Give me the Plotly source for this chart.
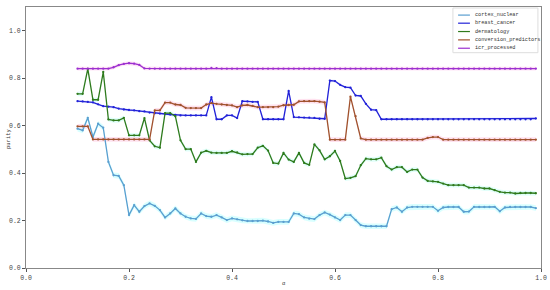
import numpy as np
import plotly.graph_objects as go

alpha = [round(0.10 + 0.01 * i, 2) for i in range(90)]

cortex_nuclear = [
    0.587, 0.580, 0.633, 0.552, 0.608, 0.591, 0.447, 0.391, 0.388, 0.349,
    0.223, 0.265, 0.237, 0.261, 0.272, 0.262, 0.244, 0.213, 0.230, 0.251,
    0.230, 0.216, 0.209, 0.207, 0.230, 0.219, 0.216, 0.223, 0.213, 0.202,
    0.209, 0.205, 0.201, 0.198, 0.198, 0.198, 0.200, 0.196, 0.190, 0.194,
    0.194, 0.194, 0.230, 0.227, 0.213, 0.208, 0.206, 0.223, 0.234, 0.225,
    0.213, 0.202, 0.223, 0.223, 0.202, 0.181, 0.176, 0.176, 0.176, 0.176,
    0.176, 0.248, 0.255, 0.237, 0.255, 0.258, 0.258, 0.258, 0.258, 0.258,
    0.241, 0.255, 0.257, 0.257, 0.257, 0.237, 0.238, 0.258, 0.257, 0.257,
    0.257, 0.258, 0.239, 0.255, 0.257, 0.257, 0.257, 0.257, 0.257, 0.252,
]

breast_cancer = [
    0.703, 0.702, 0.700, 0.698, 0.690, 0.682, 0.680, 0.678, 0.672, 0.668,
    0.666, 0.664, 0.661, 0.660, 0.655, 0.652, 0.651, 0.649, 0.647, 0.645,
    0.643, 0.643, 0.643, 0.643, 0.643, 0.643, 0.720, 0.627, 0.627, 0.643,
    0.643, 0.632, 0.703, 0.702, 0.700, 0.700, 0.627, 0.627, 0.627, 0.627,
    0.627, 0.746, 0.636, 0.635, 0.634, 0.634, 0.633, 0.629, 0.629, 0.790,
    0.788, 0.772, 0.762, 0.760, 0.727, 0.725, 0.692, 0.667, 0.665, 0.627,
    0.627, 0.627, 0.627, 0.627, 0.627, 0.627, 0.627, 0.627, 0.627, 0.627,
    0.627, 0.627, 0.627, 0.627, 0.627, 0.627, 0.627, 0.627, 0.627, 0.627,
    0.627, 0.627, 0.627, 0.627, 0.627, 0.627, 0.627, 0.627, 0.627, 0.630,
]

dermatology = [
    0.734, 0.734, 0.839, 0.709, 0.709, 0.826, 0.626, 0.622, 0.622, 0.633,
    0.559, 0.559, 0.559, 0.632, 0.538, 0.513, 0.507, 0.653, 0.653, 0.640,
    0.538, 0.501, 0.501, 0.447, 0.486, 0.494, 0.486, 0.485, 0.485, 0.485,
    0.492, 0.487, 0.479, 0.480, 0.480, 0.507, 0.515, 0.495, 0.443, 0.440,
    0.485, 0.457, 0.447, 0.485, 0.443, 0.435, 0.521, 0.496, 0.458, 0.471,
    0.493, 0.451, 0.377, 0.380, 0.387, 0.433, 0.461, 0.458, 0.458, 0.465,
    0.429, 0.415, 0.425, 0.425, 0.405, 0.415, 0.415, 0.381, 0.367, 0.365,
    0.363, 0.356, 0.349, 0.349, 0.349, 0.349, 0.339, 0.339, 0.339, 0.335,
    0.335, 0.328, 0.321, 0.318, 0.318, 0.314, 0.316, 0.316, 0.316, 0.315,
]

conversion_predictors = [
    0.597, 0.597, 0.597, 0.542, 0.542, 0.542, 0.542, 0.542, 0.542, 0.542,
    0.542, 0.542, 0.542, 0.542, 0.542, 0.664, 0.664, 0.697, 0.697, 0.689,
    0.687, 0.675, 0.674, 0.674, 0.674, 0.689, 0.695, 0.692, 0.689, 0.687,
    0.685, 0.678, 0.685, 0.687, 0.683, 0.678, 0.678, 0.678, 0.678, 0.680,
    0.686, 0.687, 0.688, 0.702, 0.703, 0.703, 0.703, 0.701, 0.698, 0.541,
    0.541, 0.541, 0.541, 0.722, 0.640, 0.546, 0.541, 0.541, 0.541, 0.541,
    0.541, 0.541, 0.541, 0.541, 0.541, 0.541, 0.541, 0.541, 0.548, 0.552,
    0.552, 0.541, 0.541, 0.541, 0.541, 0.541, 0.541, 0.541, 0.541, 0.541,
    0.541, 0.541, 0.541, 0.541, 0.541, 0.541, 0.541, 0.541, 0.541, 0.541,
]

icr_processed = [
    0.840, 0.840, 0.840, 0.840, 0.840, 0.840, 0.840, 0.846, 0.855, 0.860,
    0.863, 0.861, 0.856, 0.841, 0.840, 0.840, 0.840, 0.840, 0.840, 0.840,
    0.840, 0.840, 0.840, 0.840, 0.840, 0.840, 0.843, 0.842, 0.840, 0.840,
    0.840, 0.840, 0.840, 0.840, 0.840, 0.840, 0.840, 0.840, 0.840, 0.840,
    0.840, 0.840, 0.840, 0.840, 0.840, 0.840, 0.840, 0.840, 0.840, 0.840,
    0.840, 0.840, 0.840, 0.840, 0.840, 0.840, 0.840, 0.840, 0.840, 0.840,
    0.840, 0.840, 0.840, 0.840, 0.840, 0.840, 0.840, 0.840, 0.840, 0.840,
    0.840, 0.840, 0.840, 0.840, 0.840, 0.840, 0.840, 0.840, 0.840, 0.840,
    0.840, 0.840, 0.840, 0.840, 0.840, 0.840, 0.840, 0.840, 0.840, 0.840,
]

series = [
    ('cortex_nuclear', cortex_nuclear, '#5a9fd0', 'rgba(170,255,255,0.45)', 0.012),
    ('breast_cancer', breast_cancer, '#2222d8', 'rgba(200,210,255,0.25)', 0.006),
    ('dermatology', dermatology, '#2f7a1c', 'rgba(170,255,240,0.35)', 0.010),
    ('conversion_predictors', conversion_predictors, '#a0522d', 'rgba(255,190,220,0.45)', 0.010),
    ('icr_processed', icr_processed, '#9b30d0', 'rgba(255,190,235,0.45)', 0.008),
]

fig = go.Figure()

# faint bands behind each line
for name, vals, col, band, spread in series:
    v = np.array(vals)
    fig.add_trace(go.Scatter(
        x=alpha + alpha[::-1],
        y=list(v + spread) + list((v - spread)[::-1]),
        fill='toself',
        fillcolor=band,
        line=dict(width=0),
        mode='lines',
        hoverinfo='skip',
        showlegend=False
    ))

for name, vals, col, band, spread in series:
    fig.add_trace(go.Scatter(
        x=alpha,
        y=vals,
        mode='lines+markers',
        name=name,
        line=dict(color=col, width=1.3),
        marker=dict(color=col, size=2.3),
        showlegend=False
    ))

# compact legend drawn by hand (plotly's legend rows are too tall here)
shapes = [dict(type='rect', xref='paper', yref='paper',
               x0=0.829, x1=0.994, y0=0.825, y1=0.996,
               line=dict(color='#dddddd', width=1), fillcolor='rgba(255,255,255,0.9)')]
annotations = []
row_y = [0.969, 0.938, 0.906, 0.874, 0.842]
for (name, vals, col, band, spread), yy in zip(series, row_y):
    shapes.append(dict(type='line', xref='paper', yref='paper',
                       x0=0.839, x1=0.862, y0=yy, y1=yy,
                       line=dict(color=col, width=1.2)))
    annotations.append(dict(xref='paper', yref='paper', x=0.868, y=yy,
                            text=name, showarrow=False, xanchor='left', yanchor='middle',
                            font=dict(family='Liberation Mono', size=5.2, color='#333333')))

# axis titles
annotations.append(dict(xref='paper', yref='paper', x=-0.035, y=0.498, text='purity',
                        textangle=-90, showarrow=False, xanchor='center', yanchor='middle',
                        font=dict(family='Liberation Mono', size=5.5, color='#333333')))
annotations.append(dict(xref='paper', yref='paper', x=0.50, y=-0.058, text='α',
                        showarrow=False, xanchor='center', yanchor='middle',
                        font=dict(family='Liberation Mono', size=5.5, color='#333333')))

axis_font = dict(family='Liberation Mono', size=6.5, color='#444444')

fig.update_layout(
    width=550,
    height=290,
    paper_bgcolor='white',
    plot_bgcolor='white',
    margin=dict(l=26, r=9, t=7, b=22),
    font=dict(family='Liberation Mono', size=7, color='#333333'),
    shapes=shapes,
    annotations=annotations,
    showlegend=False
)

fig.update_xaxes(
    range=[0, 1],
    tickvals=[0, 0.2, 0.4, 0.6, 0.8, 1.0],
    tickformat='.1f',
    tickfont=axis_font,
    ticks='outside', ticklen=3, tickcolor='#555555',
    showgrid=False, zeroline=False,
    showline=True, linecolor='#888888', linewidth=1, mirror=True,
    automargin=False
)
fig.update_yaxes(
    range=[0, 1.1],
    tickvals=[0, 0.2, 0.4, 0.6, 0.8, 1.0],
    tickformat='.1f',
    tickfont=axis_font,
    ticks='outside', ticklen=3, tickcolor='#555555',
    showgrid=False, zeroline=False,
    showline=True, linecolor='#888888', linewidth=1, mirror=True,
    automargin=False
)

fig.write_html('out.html', config={'displayModeBar': False},
               post_script="document.body.style.margin='0';")
